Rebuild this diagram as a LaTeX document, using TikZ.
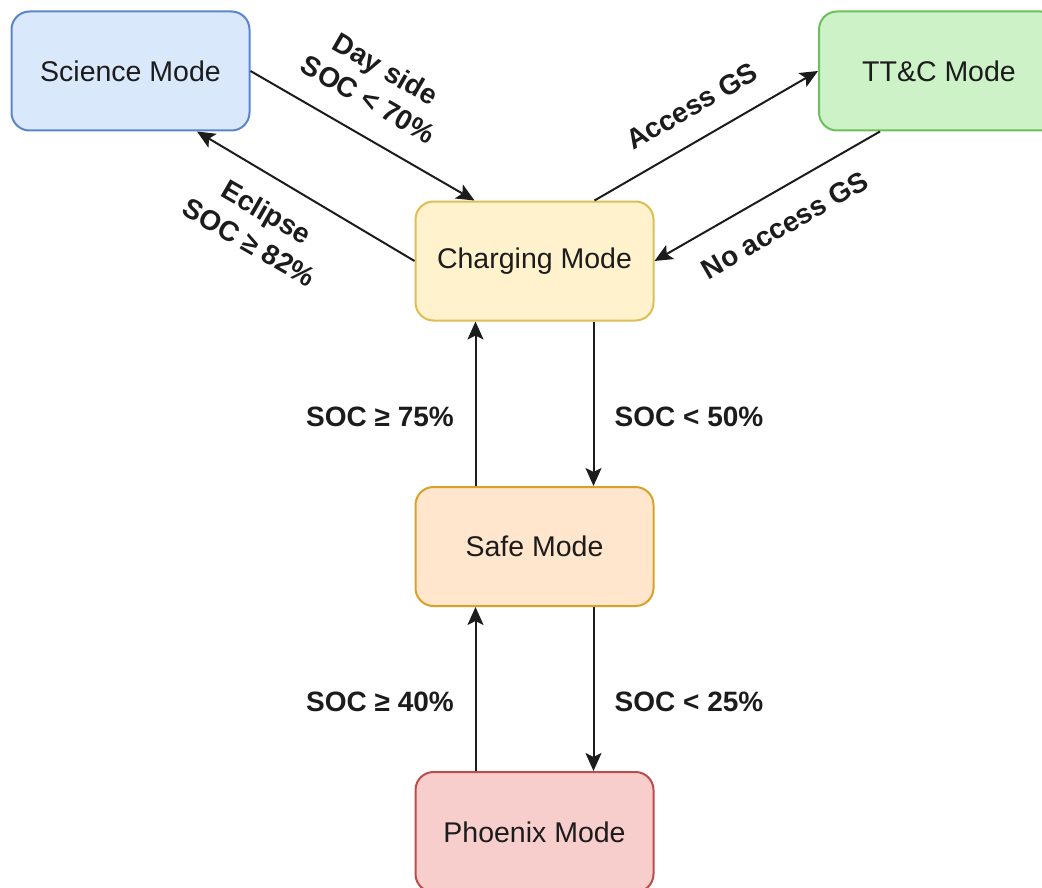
\documentclass[tikz,border=0pt]{standalone}
\usepackage{fontspec}
\setmainfont{Liberation Sans}
\usetikzlibrary{arrows.meta}

\definecolor{sciFill}{HTML}{DAE8FC}
\definecolor{sciLine}{HTML}{5A85CC}
\definecolor{ttcFill}{HTML}{CDF2C8}
\definecolor{ttcLine}{HTML}{6CC05A}
\definecolor{chgFill}{HTML}{FFF2CC}
\definecolor{chgLine}{HTML}{DDBE55}
\definecolor{safeFill}{HTML}{FFE6CC}
\definecolor{safeLine}{HTML}{D8A22A}
\definecolor{phxFill}{HTML}{F8CECC}
\definecolor{phxLine}{HTML}{BE4B4B}
\definecolor{ink}{HTML}{1C1C1C}

\tikzset{
  modebox/.style={draw, line width=2pt, rounded corners=18pt,
    minimum width=238pt, minimum height=119pt, inner sep=0pt,
    text=ink, font=\fontsize{28.5}{33}\selectfont},
  arr/.style={line width=2pt, draw=ink,
    -{Stealth[length=18pt, width=16pt, inset=4pt]}},
  cond/.style={text=ink, font=\fontsize{28}{35}\selectfont\bfseries,
    align=center, inner sep=0pt}
}

\begin{document}
\begin{tikzpicture}[x=1pt, y=-1pt]
  \useasboundingbox (0,0) rectangle (1042,888);

  % operating modes
  \node[modebox, fill=sciFill, draw=sciLine] (sci) at (130.5,71) {Science Mode};
  \node[modebox, fill=ttcFill, draw=ttcLine, minimum width=240pt] (ttc) at (939,71) {TT\&C Mode};
  \node[modebox, fill=chgFill, draw=chgLine] (chg) at (534.5,261) {Charging Mode};
  \node[modebox, fill=safeFill, draw=safeLine] (safe) at (534.5,546.5) {Safe Mode};
  \node[modebox, fill=phxFill, draw=phxLine, minimum height=120pt] (phx) at (534.5,832) {Phoenix Mode};

  % transitions between science and charging
  \draw[arr] (sci.east) -- ([xshift=-60pt]chg.north);
  \draw[arr] (chg.west) -- ([xshift=66.5pt]sci.south);
  % transitions between charging and TT&C
  \draw[arr] ([xshift=60pt]chg.north) -- (ttc.west);
  \draw[arr] ([xshift=-59pt]ttc.south) -- (chg.east);
  % vertical chain
  \draw[arr] ([xshift=59pt]chg.south) -- ([xshift=59pt]safe.north);
  \draw[arr] ([xshift=-59pt]safe.north) -- ([xshift=-59pt]chg.south);
  \draw[arr] ([xshift=59pt]safe.south) -- ([xshift=59pt]phx.north);
  \draw[arr] ([xshift=-59pt]phx.north) -- ([xshift=-59pt]safe.south);

  % transition conditions
  \node[cond, rotate=-30] (lday) at (377,84) {Day side\\SOC < 70\%};
  \node[cond, rotate=-30] (lecl) at (258,227) {Eclipse\\SOC ≥ 82\%};
  \node[cond, rotate=30] (lacc) at (692,106) {Access GS};
  \node[cond, rotate=30] (lnoacc) at (785,225) {No access GS};
  \node[cond] (l75) at (380,417) {SOC ≥ 75\%};
  \node[cond] (l50) at (689,417) {SOC < 50\%};
  \node[cond] (l40) at (380,702) {SOC ≥ 40\%};
  \node[cond] (l25) at (689,702) {SOC < 25\%};
\end{tikzpicture}
\end{document}
